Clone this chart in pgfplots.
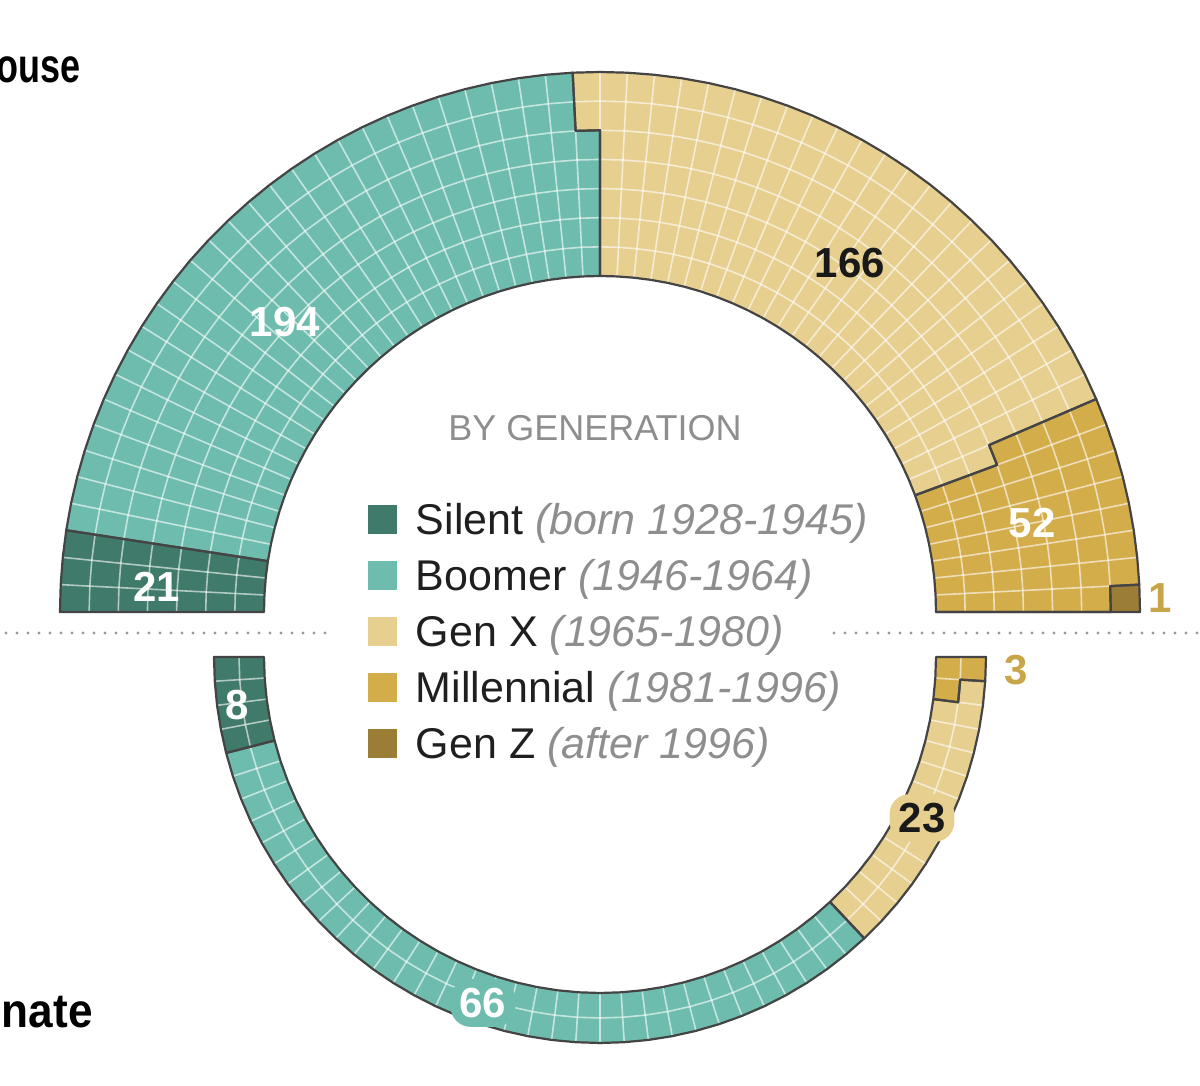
\documentclass[border=0pt]{standalone}
\usepackage{pgfplots}
\pgfplotsset{compat=1.18}
\usepackage{fontspec}
\setmainfont{Liberation Sans}
\definecolor{silentc}{HTML}{3F7A6A}
\definecolor{boomerc}{HTML}{6DBCAE}
\definecolor{genxc}{HTML}{E6CF8F}
\definecolor{millc}{HTML}{D4AD4B}
\definecolor{genzc}{HTML}{9C7D35}
\definecolor{edgec}{HTML}{444444}
\definecolor{goldtxt}{HTML}{C9A54A}
\definecolor{legray}{HTML}{8E8E8E}
\definecolor{dotc}{HTML}{9A9A9A}

% ---- seat counts (data) ----
\def\hSilent{21}\def\hBoomer{194}\def\hGenX{166}\def\hMill{52}\def\hGenZ{1}
\def\sSilent{8}\def\sBoomer{66}\def\sGenX{23}\def\sMill{3}

\gdef\pts{}
% arc along ring #3 from column boundary #1 to #2
\newcommand\arcto[3]{%
  \begingroup
  \ifnum#1=#2\relax
    \edef\clist{#1}%
  \else
    \ifnum#1<#2\relax\pgfmathtruncatemacro\nxt{#1+1}\else\pgfmathtruncatemacro\nxt{#1-1}\fi
    \edef\clist{#1,\nxt,...,#2}%
  \fi
  \foreach \cc in \clist {%
    \pgfmathsetmacro\ang{180+\SG*\cc*180/\NC}%
    \pgfmathsetmacro\rr{\RA+(#3)*(\RB-\RA)/\NR}%
    \pgfmathsetmacro\px{\CX+\rr*cos(\ang)}%
    \pgfmathsetmacro\py{\CY+\rr*sin(\ang)}%
    \xdef\pts{\pts(\px,\py)}}%
  \endgroup}
% block of seats from cumulative #1 to #2
\newcommand\segment[3]{%
  \gdef\pts{}%
  \pgfmathtruncatemacro\ca{(#1+0.01)/\NR}%
  \pgfmathtruncatemacro\ka{round(#1-\ca*\NR)}%
  \pgfmathtruncatemacro\cb{(#2+0.01)/\NR}%
  \pgfmathtruncatemacro\kb{round(#2-\cb*\NR)}%
  \ifnum\ka>0 \pgfmathtruncatemacro\colA{\ca+1}\else\let\colA\ca\fi
  \ifnum\kb>0 \pgfmathtruncatemacro\colB{\cb+1}\else\let\colB\cb\fi
  \arcto{\colA}{\colB}{0}%
  \ifnum\kb>0 \arcto{\colB}{\cb}{\kb}\fi
  \arcto{\cb}{\ca}{\NR}%
  \ifnum\ka>0 \arcto{\ca}{\colA}{\ka}\fi
  \edef\tmp{\noexpand\addplot[#3] coordinates {\pts} -- cycle;}\tmp}
\newcommand\gridlines[1]{%
  \pgfmathtruncatemacro\ncm{\NC-1}%
  \foreach \g in {1,...,\ncm}{%
    \gdef\pts{}\arcto{\g}{\g}{0}\arcto{\g}{\g}{\NR}%
    \edef\tmp{\noexpand\addplot[#1] coordinates {\pts};}\tmp}%
  \pgfmathtruncatemacro\nrm{\NR-1}%
  \foreach \g in {1,...,\nrm}{%
    \gdef\pts{}\arcto{0}{\NC}{\g}%
    \edef\tmp{\noexpand\addplot[#1] coordinates {\pts};}\tmp}}
\newcommand\allsegs[1]{%
  \pgfmathtruncatemacro\cA{\vA}\pgfmathtruncatemacro\cB{\cA+\vB}%
  \pgfmathtruncatemacro\cC{\cB+\vC}\pgfmathtruncatemacro\cD{\cC+\vD}%
  \pgfmathtruncatemacro\cE{\cD+\vE}%
  \ifx#1f%
    \segment{0}{\cA}{fill=silentc, draw=none}%
    \segment{\cA}{\cB}{fill=boomerc, draw=none}%
    \segment{\cB}{\cC}{fill=genxc, draw=none}%
    \segment{\cC}{\cD}{fill=millc, draw=none}%
    \ifnum\vE>0 \segment{\cD}{\cE}{fill=genzc, draw=none}\fi
  \else
    \segment{0}{\cA}{draw=edgec, line width=1.1pt, line join=round}%
    \segment{\cA}{\cB}{draw=edgec, line width=1.1pt, line join=round}%
    \segment{\cB}{\cC}{draw=edgec, line width=1.1pt, line join=round}%
    \segment{\cC}{\cD}{draw=edgec, line width=1.1pt, line join=round}%
    \ifnum\vE>0 \segment{\cD}{\cE}{draw=edgec, line width=1.1pt, line join=round}\fi
  \fi}

\begin{document}
\begin{tikzpicture}
\useasboundingbox (0,0) rectangle (600pt,543pt);
\begin{axis}[at={(0,0)}, anchor=south west, x=0.5pt, y=0.5pt,
  xmin=0, xmax=1200, ymin=0, ymax=1086, hide axis, clip=false, enlargelimits=false]
% ---------- House ----------
\def\NC{62}\def\SG{-1}\def\CX{600}\def\CY{474}\def\RA{336}\def\RB{540}\def\NR{7}
\let\vA\hSilent\let\vB\hBoomer\let\vC\hGenX\let\vD\hMill\let\vE\hGenZ
\allsegs{f}
\gridlines{white, opacity=0.6, line width=0.8pt}
\allsegs{o}
% ---------- Senate ----------
\def\NC{50}\def\SG{1}\def\CX{600}\def\CY{429}\def\RA{386}\def\RB{336}\def\NR{2}
\let\vA\sSilent\let\vB\sBoomer\let\vC\sGenX\let\vD\sMill\def\vE{0}
\allsegs{f}
\gridlines{white, opacity=0.6, line width=0.8pt}
\allsegs{o}
% divider
\addplot[dotc, line width=1.6pt, dash pattern=on 0pt off 5.5pt, line cap=round] coordinates {(6,453) (335,453)};
\addplot[dotc, line width=1.6pt, dash pattern=on 0pt off 5.5pt, line cap=round] coordinates {(834,453) (1200,453)};
% titles
\node[anchor=base east, inner sep=0pt, font=\fontsize{24}{28}\selectfont\bfseries] at (axis cs:81,1003) {\scalebox{0.75}[1]{House}};
\node[anchor=base east, inner sep=0pt, font=\fontsize{24}{28}\selectfont\bfseries] at (axis cs:93,58) {\scalebox{0.92}[1]{Senate}};
% value labels
\begin{scope}[every node/.style={font=\fontsize{21}{24}\selectfont\bfseries, inner sep=2pt}]
\node[text=white] at (axis cs:157,499) {21};
\node[text=white] at (axis cs:285,764) {194};
\node[text=black!90] at (axis cs:850,823) {166};
\node[text=white] at (axis cs:1032,563) {52};
\node[text=goldtxt] at (axis cs:1160,488) {1};
\node[text=white] at (axis cs:237,381) {8};
\node[text=goldtxt] at (axis cs:1016,416) {3};
\node[text=black!90, fill=genxc, rounded corners=10pt, inner sep=4.5pt] at (axis cs:922,268) {23};
\node[text=white, fill=boomerc, rounded corners=10pt, inner sep=4.5pt] at (axis cs:483,83) {66};
\end{scope}
% legend
\node[anchor=base, text=legray, font=\fontsize{18}{22}\selectfont] at (axis cs:595,645) {BY GENERATION};
\fill[silentc] (axis cs:367.5,551.5) rectangle (axis cs:396.5,580.5);
\fill[boomerc] (axis cs:367.5,495.5) rectangle (axis cs:396.5,524.5);
\fill[genxc] (axis cs:367.5,439.5) rectangle (axis cs:396.5,468.5);
\fill[millc] (axis cs:367.5,383.5) rectangle (axis cs:396.5,412.5);
\fill[genzc] (axis cs:367.5,327.5) rectangle (axis cs:396.5,356.5);
\begin{scope}[every node/.style={anchor=base west, inner sep=0pt, font=\fontsize{21.5}{25}\selectfont, text=black!88}]
\node at (axis cs:415.5,551.5) {Silent \textcolor{legray}{\itshape(born 1928-1945)}};
\node at (axis cs:415.5,495.5) {Boomer \textcolor{legray}{\itshape(1946-1964)}};
\node at (axis cs:415.5,439.5) {Gen X \textcolor{legray}{\itshape(1965-1980)}};
\node at (axis cs:415.5,383.5) {Millennial \textcolor{legray}{\itshape(1981-1996)}};
\node at (axis cs:415.5,327.5) {Gen Z \textcolor{legray}{\itshape(after 1996)}};
\end{scope}
\end{axis}
\end{tikzpicture}
\end{document}
